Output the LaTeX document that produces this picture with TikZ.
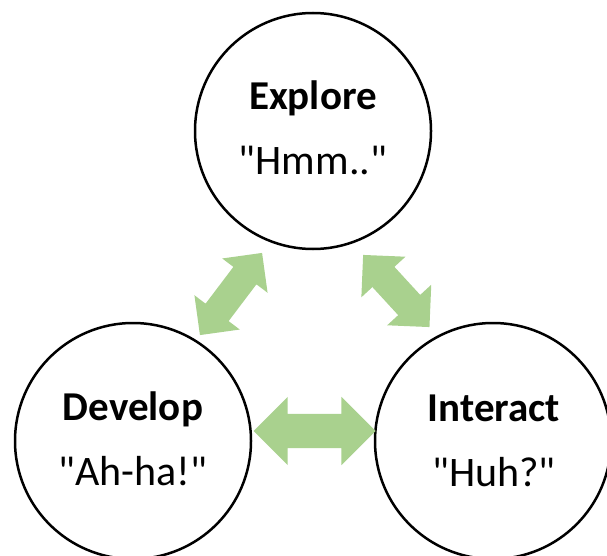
\documentclass[tikz,border=0pt]{standalone}
\usepackage{fontspec}
\setmainfont{Carlito}[Ligatures=TeXOff]
\usetikzlibrary{shapes.arrows}
\definecolor{arrowgreen}{RGB}{169,209,142}
\tikzset{
  stage/.style={circle, draw=black, line width=2.5pt, minimum size=236pt, inner sep=0pt, fill=white},
  title/.style={anchor=base, inner sep=0pt, font=\fontsize{41}{49}\selectfont\bfseries},
  quote/.style={anchor=base, inner sep=0pt, font=\fontsize{42}{50}\selectfont},
  dblarrow/.style={double arrow, fill=arrowgreen, draw=none, inner xsep=0pt, outer sep=0pt, double arrow tip angle=90}
}
\begin{document}
\begin{tikzpicture}[x=1pt,y=-1pt]
\useasboundingbox (0,0) rectangle (607,556);
\node[stage] (explore) at (313,131) {};
\node[stage] (develop) at (133,441) {};
\node[stage] (interact) at (493,441) {};
\node[title] (exploret) at (313,110) {Explore};
\node[quote] (exploreq) at (313,175) {"Hmm.."};
\node[title] (developt) at (133,420) {Develop};
\node[quote] (developq) at (133,485) {"Ah-ha!"};
\node[title] (interactt) at (494,421) {Interact};
\node[quote] (interactq) at (494,486) {"Huh?"};
\node[dblarrow, minimum height=122pt, inner ysep=17pt, double arrow head extend=17pt] (a1) at (314.5,431) {};
\node[dblarrow, minimum height=103pt, inner ysep=14.25pt, double arrow head extend=14pt, rotate=52.9] (a2) at (231,294) {};
\node[dblarrow, minimum height=98pt, inner ysep=14.75pt, double arrow head extend=15pt, rotate=-47.4] (a3) at (396.3,291) {};
\end{tikzpicture}
\end{document}
